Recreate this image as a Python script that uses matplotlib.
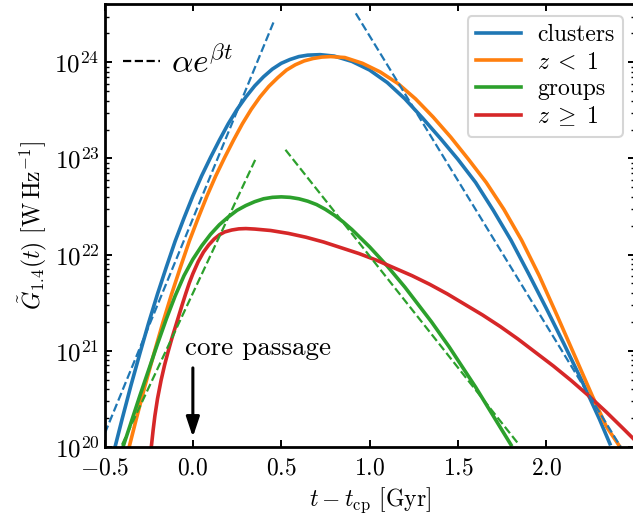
import matplotlib
matplotlib.use("Agg")
import matplotlib.pyplot as plt
import numpy as np
from matplotlib.lines import Line2D

plt.rcParams["font.family"] = "serif"
plt.rcParams["font.serif"] = ["cmr10"]
plt.rcParams["mathtext.fontset"] = "cm"
plt.rcParams["axes.formatter.use_mathtext"] = True
plt.rcParams["axes.unicode_minus"] = True

# log10 of G_1.4, per series
t_clusters = [-0.44, -0.40, -0.35, -0.30, -0.25, -0.20, -0.15, -0.10, -0.05, 0.00, 0.05, 0.10,
              0.15, 0.20, 0.25, 0.30, 0.35, 0.40, 0.45, 0.50, 0.55, 0.60, 0.65, 0.72,
              0.80, 0.90, 1.00, 1.10, 1.20, 1.30, 1.40, 1.50, 1.60, 1.70, 1.80, 1.90,
              2.00, 2.10, 2.20, 2.30, 2.36]
lg_clusters = [20.00, 20.29, 20.64, 20.97, 21.29, 21.59, 21.87, 22.14, 22.38, 22.61, 22.82, 23.01,
               23.19, 23.36, 23.51, 23.64, 23.755, 23.85, 23.93, 23.99, 24.03, 24.06, 24.075, 24.08,
               24.065, 24.01, 23.92, 23.79, 23.62, 23.42, 23.21, 22.99, 22.75, 22.46, 22.15, 21.80,
               21.44, 21.07, 20.69, 20.29, 20.03]

t_zlow = [-0.36, -0.32, -0.27, -0.22, -0.17, -0.12, -0.07, -0.02, 0.03, 0.08, 0.13, 0.18,
          0.23, 0.28, 0.33, 0.38, 0.43, 0.48, 0.53, 0.58, 0.63, 0.68, 0.73, 0.78,
          0.86, 0.96, 1.06, 1.16, 1.26, 1.36, 1.46, 1.56, 1.66, 1.76, 1.86, 1.96,
          2.06, 2.16, 2.26, 2.34, 2.42]
lg_zlow = [20.00, 20.29, 20.64, 20.97, 21.29, 21.59, 21.87, 22.14, 22.38, 22.61, 22.82, 23.01,
           23.19, 23.36, 23.51, 23.64, 23.75, 23.84, 23.92, 23.975, 24.015, 24.04, 24.055, 24.06,
           24.05, 23.99, 23.90, 23.78, 23.62, 23.43, 23.22, 22.99, 22.75, 22.47, 22.15, 21.78,
           21.37, 20.95, 20.53, 20.21, 19.99]

t_groups = [-0.395, -0.35, -0.30, -0.25, -0.20, -0.15, -0.10, -0.05, 0.00, 0.05, 0.10, 0.15,
            0.20, 0.25, 0.30, 0.35, 0.40, 0.45, 0.50, 0.55, 0.60, 0.65, 0.70, 0.75,
            0.80, 0.85, 0.90, 0.95, 1.00, 1.05, 1.10, 1.15, 1.20, 1.25, 1.30, 1.35,
            1.40, 1.45, 1.50, 1.55, 1.60, 1.65, 1.70, 1.75, 1.80]
lg_groups = [20.00, 20.25, 20.53, 20.80, 21.07, 21.33, 21.57, 21.78, 21.95, 22.09, 22.21, 22.31,
             22.39, 22.46, 22.51, 22.55, 22.58, 22.595, 22.60, 22.595, 22.58, 22.555, 22.52, 22.47,
             22.41, 22.34, 22.26, 22.17, 22.08, 21.98, 21.88, 21.77, 21.66, 21.54, 21.42, 21.30,
             21.17, 21.04, 20.90, 20.76, 20.62, 20.47, 20.32, 20.17, 20.02]

t_zhigh = [-0.235, -0.225, -0.215, -0.20, -0.18, -0.16, -0.14, -0.12, -0.10, -0.08, -0.06, -0.04,
           -0.02, 0.00, 0.03, 0.06, 0.09, 0.12, 0.15, 0.18, 0.22, 0.26, 0.30, 0.35,
           0.44, 0.54, 0.64, 0.74, 0.84, 0.94, 1.04, 1.14, 1.24, 1.34, 1.44, 1.54,
           1.64, 1.74, 1.84, 1.94, 2.04, 2.14, 2.24, 2.34, 2.44, 2.50]
lg_zhigh = [20.00, 20.17, 20.32, 20.50, 20.69, 20.85, 20.99, 21.12, 21.24, 21.36, 21.48, 21.595,
            21.705, 21.80, 21.925, 22.025, 22.10, 22.16, 22.205, 22.235, 22.255, 22.267, 22.27, 22.265,
            22.25, 22.22, 22.18, 22.13, 22.07, 22.01, 21.94, 21.86, 21.78, 21.69, 21.59, 21.48,
            21.37, 21.25, 21.12, 20.98, 20.84, 20.69, 20.53, 20.36, 20.18, 20.07]

# exponential fits (straight in log space): endpoints
fit_clusters_rise = ([-0.498, 0.457], [20.14, 24.42])
fit_clusters_fall = ([0.922, 2.42], [24.51, 20.0])
fit_groups_rise = ([-0.401, 0.354], [20.02, 22.99])
fit_groups_fall = ([0.524, 1.846], [23.09, 20.02])

labels = ["clusters", r"$z\;<\;1$", "groups", r"$z\;\geq\;1$"]
colors = ["tab:blue", "tab:orange", "tab:green", "tab:red"]

fig = plt.figure(figsize=(6.33, 5.17), dpi=100)
ax = fig.add_axes([0.1651, 0.136, 0.8375, 0.8563])

series = [(t_clusters, lg_clusters), (t_zlow, lg_zlow), (t_groups, lg_groups), (t_zhigh, lg_zhigh)]
for (t, lg), c, lab in zip(series, colors, labels):
    ax.plot(t, 10.0 ** np.array(lg), color=c, lw=2.6, label=lab)

for (t, lg), c in [(fit_clusters_rise, "tab:blue"), (fit_clusters_fall, "tab:blue"),
                   (fit_groups_rise, "tab:green"), (fit_groups_fall, "tab:green")]:
    ax.plot(t, 10.0 ** np.array(lg), color=c, lw=1.6, ls="--")

ax.set_yscale("log")
ax.set_xlim(-0.5, 2.5)
ax.set_ylim(1e20, 4.05e24)
ax.set_xticks([-0.5, 0.0, 0.5, 1.0, 1.5, 2.0])
ax.set_xticklabels([r"$-0.5$", r"$0.0$", r"$0.5$", r"$1.0$", r"$1.5$", r"$2.0$"])

ax.set_xlabel(r"$t - t_{\rm cp}$ $[\mathrm{Gyr}]$", fontsize=17)
ax.set_ylabel(r"$\tilde{G}_{1.4}(t)$ $[\mathrm{W\,Hz^{-1}}]$", fontsize=17)

ax.tick_params(which="both", direction="in", top=True, right=True, labelsize=17)
ax.tick_params(axis="y", labelsize=18)
ax.tick_params(which="major", length=5, width=1.4)
ax.tick_params(which="minor", length=3, width=1.0)
ax.tick_params(axis="x", which="minor", bottom=False, top=False)
ax.tick_params(axis="x", pad=8)
for s in ax.spines.values():
    s.set_linewidth(2.0)

ax.annotate("", xy=(0.0, 10 ** 20.1), xytext=(0.0, 10 ** 20.82),
            arrowprops=dict(arrowstyle="-|>,head_length=0.6,head_width=0.2", color="k",
                            lw=2.2, mutation_scale=20, shrinkA=0, shrinkB=0))
ax.text(-0.044, 10 ** 20.954, "core passage", fontsize=19.5, ha="left", va="baseline")

leg = ax.legend(loc="upper right", fontsize=17, labelspacing=0.2, handlelength=1.9,
                handletextpad=0.7, borderpad=0.35, fancybox=True, edgecolor="0.8", framealpha=0.8)
leg.get_frame().set_linewidth(1.5)
ax.add_artist(leg)

fit_handle = Line2D([], [], color="k", ls="--", lw=1.6)
ax.legend([fit_handle], [r"$\alpha e^{\beta t}$"], loc="center left", bbox_to_anchor=(0.035, 0.869),
          frameon=False, fontsize=24, handlelength=1.1, handletextpad=0.35, borderpad=0.0,
          borderaxespad=0.0)

fig.savefig("out.png", dpi=100)
